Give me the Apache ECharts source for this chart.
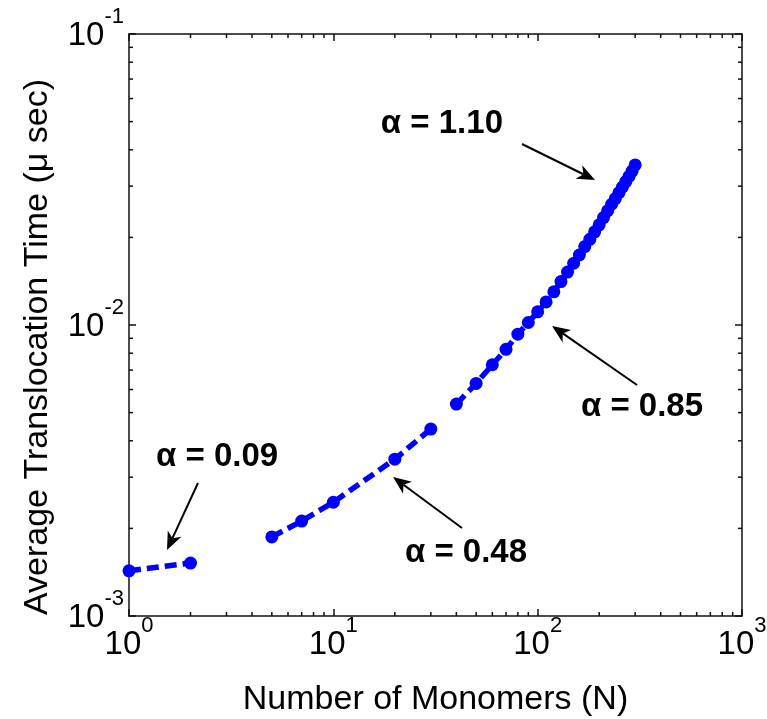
<!DOCTYPE html>
<html><head><meta charset="utf-8">
<script src="https://cdn.jsdelivr.net/npm/echarts@6/dist/echarts.min.js"></script>
<style>html,body{margin:0;padding:0;background:#fff}#c{width:767px;height:719px}</style>
</head><body><div id="c"></div>
<script>
// ---- data ----
const seg1N = [1, 2];
const seg1T = [1.43e-3, 1.52e-3];
const seg2N = [5, 7, 10, 20, 30];
const seg2T = [1.87e-3, 2.12e-3, 2.46e-3, 3.46e-3, 4.39e-3];
const seg3N = [40, 50, 60, 70, 80, 90, 100, 110, 120, 130, 140, 150, 160, 170, 180, 190, 200, 210, 220, 230, 240, 250, 260, 270, 280, 290, 300];
const seg3T = [5.35e-3, 6.3e-3, 7.3e-3, 8.25e-3, 9.3e-3, 1.02e-2, 1.11e-2, 1.20e-2, 1.30e-2, 1.41e-2, 1.52e-2, 1.63e-2, 1.74e-2, 1.86e-2, 1.97e-2, 2.09e-2, 2.21e-2, 2.34e-2, 2.47e-2, 2.60e-2, 2.72e-2, 2.85e-2, 2.98e-2, 3.11e-2, 3.24e-2, 3.38e-2, 3.55e-2];
const xRange = [1, 1000];
const yRange = [1e-3, 1e-1];
const xTitle = 'Number of Monomers (N)';
const yTitle = 'Average Translocation Time (\u03bc sec)';
const annText = ['\u03b1 = 1.10', '\u03b1 = 0.85', '\u03b1 = 0.48', '\u03b1 = 0.09'];
const annAt   = [[34.0, 0.0491], [324, 5.23e-3], [44.6, 1.646e-3], [2.697, 3.52e-3]];
const annFrom = [[83.8, 0.04188], [306.4, 6.22e-3], [42.6, 2.006e-3], [2.176, 2.864e-3]];
const annTo   = [[190.9, 0.0315], [117.6, 9.92e-3], [19.6, 3.003e-3], [1.535, 1.686e-3]];

const BLUE = '#0000ff';
const zip = (a, b) => a.map((v, i) => [v, b[i]]);
const sup = v => {
  const e = Math.round(Math.log10(v));
  return '{b|10}{s|' + e + '}';
};
const rich = {
  b: { fontSize: 33, lineHeight: 36, color: '#000', fontFamily: 'Liberation Sans', verticalAlign: 'bottom' },
  s: { fontSize: 22, lineHeight: 22, color: '#000', fontFamily: 'Liberation Sans', padding: [0, 0, 24, 0], verticalAlign: 'bottom' }
};
const axLine = { show: true, lineStyle: { color: '#111', width: 1.5 } };
const axTick = { show: true, inside: true, length: 7, lineStyle: { color: '#111', width: 1.5 } };

function mkSeries(n, t, extra) {
  return Object.assign({
    type: 'line', data: zip(n, t), xAxisIndex: 0, yAxisIndex: 0,
    symbol: 'circle', symbolSize: 13, itemStyle: { color: BLUE },
    lineStyle: { color: BLUE, width: 5.5, type: [12, 6], cap: 'butt' },
    silent: true
  }, extra || {});
}

const chart = echarts.init(document.getElementById('c'), null, { renderer: 'canvas' });
const option = {
  animation: false,
  backgroundColor: '#fff',
  grid: { left: 129, right: 25, top: 34, bottom: 103, containLabel: false, outerBoundsMode: 'none' },
  xAxis: [
    { type: 'log', logBase: 10, min: xRange[0], max: xRange[1], position: 'bottom',
      axisLine: axLine, axisTick: axTick, splitLine: { show: false },
      axisLabel: { formatter: sup, rich: rich, margin: 9 },
      name: xTitle, nameLocation: 'middle', nameGap: 67,
      nameTextStyle: { fontSize: 34, fontFamily: 'Liberation Sans', color: '#000' } },
    { type: 'log', logBase: 10, min: xRange[0], max: xRange[1], position: 'top',
      axisLine: axLine, axisTick: axTick, splitLine: { show: false }, axisLabel: { show: false } }
  ],
  yAxis: [
    { type: 'log', logBase: 10, min: yRange[0], max: yRange[1], position: 'left',
      axisLine: axLine, axisTick: axTick, splitLine: { show: false },
      axisLabel: { formatter: sup, rich: rich, margin: 5 },
      name: yTitle, nameLocation: 'middle', nameGap: 74, nameRotate: 90,
      nameTextStyle: { fontSize: 34, fontFamily: 'Liberation Sans', color: '#000', padding: [0, 44, 0, 0] } },
    { type: 'log', logBase: 10, min: yRange[0], max: yRange[1], position: 'right',
      axisLine: axLine, axisTick: axTick, splitLine: { show: false }, axisLabel: { show: false } }
  ],
  series: [
    mkSeries(seg1N, seg1T),
    mkSeries(seg2N, seg2T),
    mkSeries(seg3N, seg3T, {
      markPoint: {
        silent: true, symbol: 'circle', symbolSize: 1, itemStyle: { color: 'rgba(0,0,0,0)' },
        label: { show: true, position: 'inside', color: '#000', fontSize: 33, fontWeight: 'bold',
                 fontFamily: 'Liberation Sans', formatter: p => p.name },
        data: annAt.map((c, i) => ({ name: annText[i], coord: c }))
      }
    })
  ]
};
chart.setOption(option);

const g = [];
const px = v => chart.convertToPixel({ xAxisIndex: 0, yAxisIndex: 0 }, v);
// arrows, placed through the axes' scales
annFrom.forEach((f, i) => {
  const a = px(f), b = px(annTo[i]);
  const dx = b[0] - a[0], dy = b[1] - a[1], L = Math.hypot(dx, dy);
  const ux = dx / L, uy = dy / L, nx = -uy, ny = ux;
  const hl = 18, hw = 7.5, notch = 13;
  g.push({ type: 'line', silent: true, shape: { x1: a[0], y1: a[1], x2: b[0] - ux * notch, y2: b[1] - uy * notch },
           style: { stroke: '#000', lineWidth: 2 } });
  g.push({ type: 'polygon', silent: true, shape: { points: [
    [b[0], b[1]],
    [b[0] - ux * hl + nx * hw, b[1] - uy * hl + ny * hw],
    [b[0] - ux * notch, b[1] - uy * notch],
    [b[0] - ux * hl - nx * hw, b[1] - uy * hl - ny * hw]
  ] }, style: { fill: '#000' } });
});
// minor log ticks (2..9 of each decade)
const xb = chart.convertToPixel({ yAxisIndex: 0 }, yRange[0]);
const xt = chart.convertToPixel({ yAxisIndex: 0 }, yRange[1]);
const yl = chart.convertToPixel({ xAxisIndex: 0 }, xRange[0]);
const yr = chart.convertToPixel({ xAxisIndex: 0 }, xRange[1]);
const ml = 4, st = { stroke: '#111', lineWidth: 1.5 };
for (let d = xRange[0]; d < xRange[1]; d *= 10) {
  for (let k = 2; k <= 9; k++) {
    const p = chart.convertToPixel({ xAxisIndex: 0 }, k * d);
    g.push({ type: 'line', silent: true, shape: { x1: p, y1: xb, x2: p, y2: xb - ml }, style: st });
    g.push({ type: 'line', silent: true, shape: { x1: p, y1: xt, x2: p, y2: xt + ml }, style: st });
  }
}
for (let d = yRange[0]; d < yRange[1] * 0.999; d *= 10) {
  for (let k = 2; k <= 9; k++) {
    const p = chart.convertToPixel({ yAxisIndex: 0 }, k * d);
    g.push({ type: 'line', silent: true, shape: { x1: yl, y1: p, x2: yl + ml, y2: p }, style: st });
    g.push({ type: 'line', silent: true, shape: { x1: yr, y1: p, x2: yr - ml, y2: p }, style: st });
  }
}
chart.setOption({ graphic: g });
</script>
</body></html>
